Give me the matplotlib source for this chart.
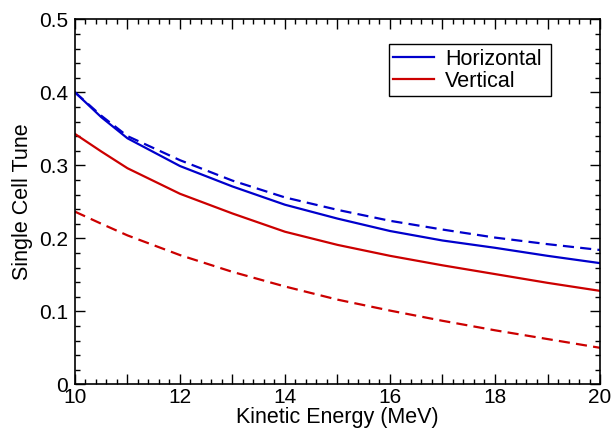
import matplotlib
matplotlib.use('Agg')
import matplotlib.pyplot as plt
from matplotlib.ticker import MultipleLocator, FuncFormatter

# kinetic energy (MeV)
energy = [10, 10.5, 11, 12, 13, 14, 15, 16, 17, 18, 19, 20]

# single cell tunes
horiz_solid = [0.400, 0.366, 0.337, 0.299, 0.271, 0.246, 0.227, 0.210, 0.197, 0.187, 0.176, 0.166]
horiz_dash = [0.400, 0.368, 0.340, 0.307, 0.279, 0.256, 0.239, 0.224, 0.212, 0.201, 0.192, 0.184]
vert_solid = [0.343, 0.319, 0.296, 0.261, 0.234, 0.209, 0.191, 0.176, 0.163, 0.151, 0.139, 0.128]
vert_dash = [0.2365, 0.220, 0.204, 0.177, 0.154, 0.134, 0.116, 0.101, 0.087, 0.074, 0.062, 0.050]

plt.rcParams['font.family'] = ['Liberation Sans', 'DejaVu Sans']

blue = '#0000cc'
red = '#cc0000'

fig = plt.figure(figsize=(6.13, 4.32), dpi=100)
ax = fig.add_axes([0.1223, 0.1104, 0.8565, 0.8449])

ax.plot(energy, horiz_solid, color=blue, lw=1.6, label='Horizontal')
ax.plot(energy, vert_solid, color=red, lw=1.6, label='Vertical')
ax.plot(energy, horiz_dash, color=blue, lw=1.6, dashes=(5, 2.8))
ax.plot(energy, vert_dash, color=red, lw=1.6, dashes=(5, 2.8))

ax.set_xlim(10, 20)
ax.set_ylim(0, 0.5)

ax.xaxis.set_major_locator(MultipleLocator(1))
ax.xaxis.set_minor_locator(MultipleLocator(0.2))
ax.xaxis.set_major_formatter(FuncFormatter(
    lambda v, p: '%d' % round(v) if round(v) % 2 == 0 else ''))
ax.yaxis.set_major_locator(MultipleLocator(0.1))
ax.yaxis.set_minor_locator(MultipleLocator(0.02))
ax.yaxis.set_major_formatter(FuncFormatter(
    lambda v, p: '0' if abs(v) < 1e-9 else '%.1f' % v))

ax.tick_params(which='both', direction='in', top=True, right=True,
               labelsize=15, width=1)
ax.tick_params(which='major', length=7)
ax.tick_params(which='minor', length=3.6)
ax.tick_params(axis='x', pad=3)
ax.tick_params(axis='y', pad=5)
for s in ax.spines.values():
    s.set_linewidth(1.2)

ax.set_xlabel('Kinetic Energy (MeV)', fontsize=15.5, labelpad=0)
ax.set_ylabel('Single Cell Tune', fontsize=15.5, labelpad=4)

leg = ax.legend(loc='upper left', bbox_to_anchor=(0.598, 0.799, 0.308, 0.1325),
                mode='expand', fontsize=15.5, handlelength=1.9, handletextpad=0.5,
                labelspacing=0.05, borderpad=0.2, fancybox=False, framealpha=1,
                borderaxespad=0)
leg.get_frame().set_edgecolor('black')
leg.get_frame().set_linewidth(1)

plt.savefig('out.png', dpi=100)
